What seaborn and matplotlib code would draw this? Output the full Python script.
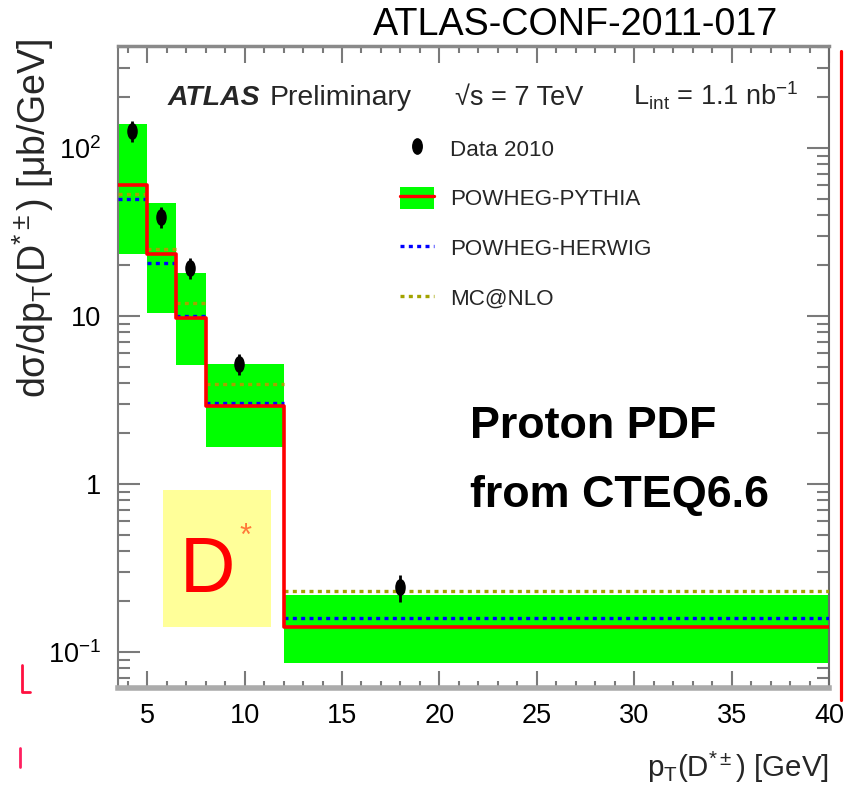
import numpy as np
import pandas as pd
import matplotlib
matplotlib.use("Agg")
import matplotlib.pyplot as plt
import seaborn as sns
from matplotlib import font_manager as fm
from matplotlib.lines import Line2D
from matplotlib.patches import Patch, Rectangle
from matplotlib.markers import MarkerStyle
from matplotlib.transforms import Affine2D
from matplotlib.ticker import LogLocator, MultipleLocator, NullFormatter, FixedLocator

# ---------------- data ----------------
bin_edges = [3.5, 5.0, 6.5, 8.0, 12.0, 40.0]
data_x = [4.2, 5.7, 7.2, 9.7, 18.0]
data_y = [127.0, 39.0, 19.3, 5.2, 0.243]
data_err_rel = [0.14, 0.14, 0.14, 0.14, 0.18]
pythia = [60.0, 23.4, 9.7, 2.93, 0.140]
pythia_lo = [23.5, 10.4, 5.1, 1.65, 0.086]
pythia_hi = [139.0, 46.9, 18.0, 5.2, 0.218]
herwig = [49.5, 20.7, 10.0, 3.04, 0.160]
mcnlo = [53.0, 25.2, 11.9, 3.95, 0.232]
y_ticks = [0.1, 1, 10, 100]
y_ticklabels = ["$10^{-1}$", "1", "10", "$10^{2}$"]
x_ticks = [5, 10, 15, 20, 25, 30, 35, 40]
legend_labels = ["Data 2010", "POWHEG-PYTHIA", "POWHEG-HERWIG", "MC@NLO"]

# ---------------- fonts ----------------
sns.set_theme(style="ticks")
names = {f.name for f in fm.fontManager.ttflist}
NARROW = "Liberation Sans Narrow" in names
HF = "Liberation Sans Narrow" if NARROW else "Liberation Sans"
def nf(s):
    return s if NARROW else s * 0.85

plt.rcParams["font.family"] = ["Liberation Sans", "DejaVu Sans"]
plt.rcParams["mathtext.fontset"] = "custom"
plt.rcParams["mathtext.rm"] = HF
plt.rcParams["mathtext.it"] = HF + ":italic"
plt.rcParams["mathtext.bf"] = HF + ":bold"

W, H = 847, 794
fig = plt.figure(figsize=(W / 100, H / 100), dpi=100)
fig.patch.set_facecolor("white")
L, R, T, B = 118, 829, 46, 688
ax = fig.add_axes([L / W, (H - B) / H, (R - L) / W, (B - T) / H])
ax.set_facecolor("white")
ax.set_yscale("log")

# ---------------- frames ----------------
pyt_df = pd.DataFrame({"x": bin_edges, "y": pythia + [pythia[-1]]})
seg_rows = []
for i in range(len(pythia)):
    for xx in (bin_edges[i], bin_edges[i + 1]):
        seg_rows.append({"seg": i, "x": xx, "herwig": herwig[i], "mcnlo": mcnlo[i]})
seg_df = pd.DataFrame(seg_rows)

# green band
ax.fill_between(bin_edges, pythia_lo + [pythia_lo[-1]], pythia_hi + [pythia_hi[-1]],
                step="post", color="#00ff00", lw=0, zorder=1)

# MC@NLO and HERWIG
sns.lineplot(data=seg_df, x="x", y="mcnlo", units="seg", estimator=None, sort=False,
             color="#a3a300", lw=2.4, linestyle=(0, (1.2, 1.3)), ax=ax, zorder=3)
sns.lineplot(data=seg_df, x="x", y="herwig", units="seg", estimator=None, sort=False,
             color="#0000ff", lw=2.4, linestyle=(0, (1.2, 1.3)), ax=ax, zorder=3)
# POWHEG-PYTHIA step
sns.lineplot(data=pyt_df, x="x", y="y", estimator=None, sort=False,
             drawstyle="steps-post", color="#ff0000", lw=2.6, ax=ax, zorder=4)

# data
ell = MarkerStyle("o", transform=Affine2D().scale(0.62, 1.0))
yerr = [np.array(data_y) * np.array(data_err_rel), np.array(data_y) * np.array(data_err_rel)]
ax.errorbar(data_x, data_y, yerr=yerr, fmt="none", ecolor="black", elinewidth=2, capsize=0, zorder=5)
sns.scatterplot(x=data_x, y=data_y, marker=ell, s=150, color="black", edgecolor="black",
                linewidth=0, ax=ax, zorder=6)

# ---------------- axes ----------------
ax.set_xlim(3.5, 40)
ax.set_ylim(0.061, 405)
ax.set_xlabel("")
ax.set_ylabel("")
ax.xaxis.set_major_locator(FixedLocator(x_ticks))
ax.xaxis.set_minor_locator(MultipleLocator(1))
ax.set_xticklabels([str(v) for v in x_ticks])
ax.yaxis.set_major_locator(FixedLocator(y_ticks))
ax.set_yticklabels(y_ticklabels)
ax.yaxis.set_minor_locator(LogLocator(base=10, subs=np.arange(2, 10)))
ax.yaxis.set_minor_formatter(NullFormatter())

ax.tick_params(which="both", direction="in", top=True, right=True, color="#7a7a7a",
               labelcolor="black", labelfontfamily=HF)
ax.tick_params(axis="x", which="major", length=12, width=1.5, pad=11, labelsize=nf(23))
ax.tick_params(axis="x", which="minor", length=5, width=1.5)
ax.tick_params(axis="y", which="major", length=16, width=1.5, pad=12, labelsize=nf(23))
ax.tick_params(axis="y", which="minor", length=8.5, width=1.5)

for side, lw, col in [("left", 1.5, "#7a7a7a"), ("right", 1.5, "#6a6a6a"),
                      ("top", 2.5, "#8a8a8a"), ("bottom", 4.0, "#ababab")]:
    ax.spines[side].set_linewidth(lw)
    ax.spines[side].set_color(col)
    ax.spines[side].set_visible(True)

# ---------------- legend ----------------
handles = [
    Line2D([], [], marker=ell, color="black", ls="none", ms=11),
    (Patch(facecolor="#00ff00", edgecolor="none"), Line2D([], [], color="#ff0000", lw=2.4)),
    Line2D([], [], color="#0000ff", lw=2.4, ls=(0, (1.2, 1.3))),
    Line2D([], [], color="#a3a300", lw=2.4, ls=(0, (1.2, 1.3))),
]
ax.legend(handles, legend_labels, loc="upper left", bbox_to_anchor=(0.397, 0.858),
          frameon=False, prop=fm.FontProperties(family=HF, size=nf(19)),
          handlelength=1.5, handleheight=1.1, handletextpad=0.72,
          labelspacing=1.18, borderpad=0, borderaxespad=0)

# ---------------- texts ----------------
fig.text(0.680, 0.9685, "ATLAS-CONF-2011-017", ha="center", va="center",
         fontsize=nf(32), family=HF, color="black")
yb = 0.908
ax.text(0.0703, yb, "ATLAS", transform=ax.transAxes, ha="left", va="baseline",
        fontsize=nf(24), family=HF, fontweight="bold", fontstyle="italic")
ax.text(0.2138, yb, "Preliminary", transform=ax.transAxes, ha="left", va="baseline",
        fontsize=nf(24), family=HF)
ax.text(0.474, yb, "\u221As = 7 TeV", transform=ax.transAxes, ha="left", va="baseline",
        fontsize=nf(23), family=[HF, "DejaVu Sans"])
ax.text(0.724, yb, "L$_{\\mathrm{int}}$ = 1.1 nb$^{-1}$", transform=ax.transAxes,
        ha="left", va="baseline", fontsize=nf(23), family=HF)

ax.text(0.495, 0.389, "Proton PDF", transform=ax.transAxes, ha="left", va="baseline",
        fontsize=nf(38), family=HF, fontweight="bold", color="black")
ax.text(0.495, 0.282, "from CTEQ6.6", transform=ax.transAxes, ha="left", va="baseline",
        fontsize=nf(38), family=HF, fontweight="bold", color="black")

# D* box
ax.add_patch(Rectangle((0.063, 0.095), 0.152, 0.213, transform=ax.transAxes,
                       facecolor="#ffff99", edgecolor="none", zorder=1))
ax.text(0.126, 0.1495, "D", transform=ax.transAxes, ha="center", va="baseline",
        fontsize=nf(65), family=HF, color="#ff0000", zorder=2)
ax.text(0.179, 0.236, "*", transform=ax.transAxes, ha="center", va="center",
        fontsize=nf(26), family=HF, color="#ff7a3a", zorder=2)

# axis titles
fig.text(0.039, 0.725, "d\u03c3/dp$_{\\mathrm{T}}$(D$^{*\\pm}$) [\u03bcb/GeV]", rotation=90,
         ha="center", va="center", fontsize=27, family=["Liberation Sans", "DejaVu Sans"])
fig.text(829 / W, (H - 767) / H, "p$_{\\mathrm{T}}$(D$^{*\\pm}$) [GeV]", ha="right", va="center",
         fontsize=nf(25), family=HF)

# stray red marks of the slide
fig.add_artist(Line2D([841 / W, 841 / W], [1 - 51 / H, 1 - 700 / H], color="#ff0000", lw=2.3,
                      transform=fig.transFigure))
fig.add_artist(Line2D([22 / W, 22 / W, 30 / W], [1 - 665 / H, 1 - 692 / H, 1 - 692 / H],
                      color="#ff1040", lw=2.0, transform=fig.transFigure))
fig.add_artist(Line2D([20 / W, 20 / W], [1 - 748 / H, 1 - 767 / H], color="#ff2060", lw=2.0,
                      transform=fig.transFigure))

fig.savefig("out.png", dpi=100, facecolor="white")
